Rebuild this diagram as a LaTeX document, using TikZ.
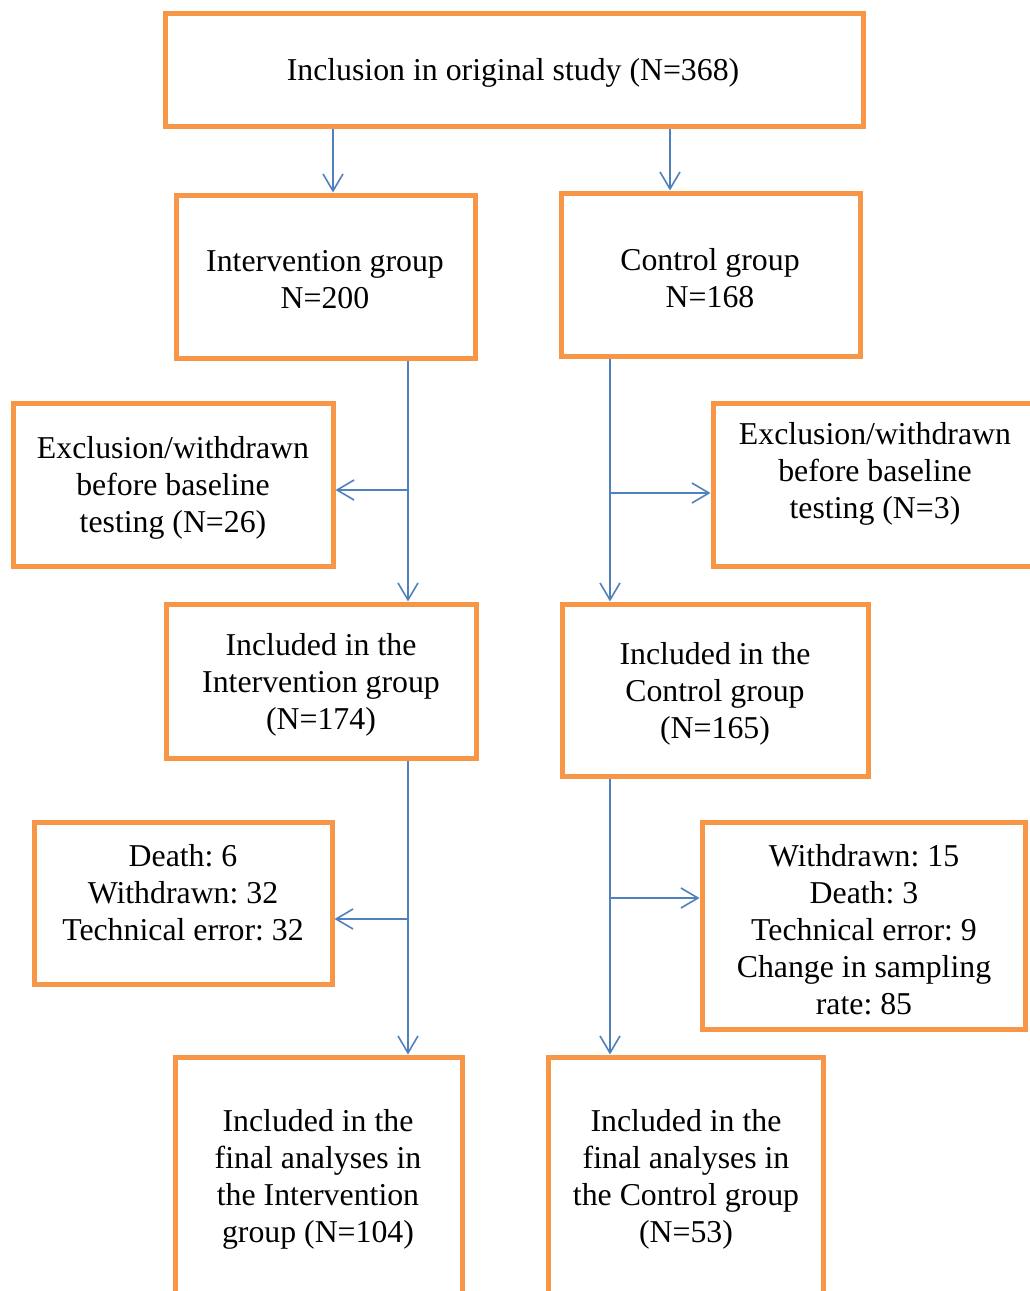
\documentclass[tikz,border=0pt]{standalone}
\usepackage{fontspec}
\setmainfont{Liberation Serif}
\usetikzlibrary{arrows.meta}
\definecolor{boxorange}{HTML}{F79646}
\definecolor{arrblue}{HTML}{4F81BD}
\tikzset{
  box/.style={draw=boxorange, line width=5pt, rectangle, inner sep=0pt, fill=none},
  txt/.style={align=center, inner sep=0pt, font=\fontsize{31.8}{37}\selectfont\frenchspacing},
  arr/.style={draw=arrblue, line width=1.6pt, -{Straight Barb[length=17pt,width=20pt]}}
}
\begin{document}
\begin{tikzpicture}[x=1pt,y=-1pt]
\useasboundingbox (0,0) rectangle (1030,1291);
\clip (0,0) rectangle (1030,1291);
\fill[white] (0,0) rectangle (1030,1291);
% boxes
\node[box, minimum width=698pt, minimum height=113pt] (top) at (514,69.5) {};
\node[box, minimum width=299pt, minimum height=163pt] (int) at (325.5,276.5) {};
\node[box, minimum width=299pt, minimum height=163pt] (ctrl) at (710.5,274.5) {};
\node[box, minimum width=320pt, minimum height=163pt] (exL) at (173,484.5) {};
\node[box, minimum width=360pt, minimum height=163pt] (exR) at (893,484.5) {};
\node[box, minimum width=310pt, minimum height=154pt] (inI) at (321,681) {};
\node[box, minimum width=306pt, minimum height=172pt] (inC) at (715,690) {};
\node[box, minimum width=298pt, minimum height=162pt] (dL) at (183,903) {};
\node[box, minimum width=323pt, minimum height=207pt] (wR) at (863.5,925.5) {};
\node[box, minimum width=287pt, minimum height=300pt] (fI) at (318.5,1207) {};
\node[box, minimum width=275pt, minimum height=300pt] (fC) at (685.5,1207) {};
% texts
\node[txt] (ttop) at (513,73) {Inclusion in original study (N=368)};
\node[txt] (tint) at (325,280) {Intervention group\\N=200};
\node[txt] (tctrl) at (710,278) {Control group\\N=168};
\node[txt] (texL) at (173,488) {Exclusion/withdrawn\\before baseline\\testing (N=26)};
\node[txt] (texR) at (875,474) {Exclusion/withdrawn\\before baseline\\testing (N=3)};
\node[txt] (tinI) at (321,685) {Included in the\\Intervention group\\(N=174)};
\node[txt] (tinC) at (715,694) {Included in the\\Control group\\(N=165)};
\node[txt] (tdL) at (183,893) {Death: 6\\Withdrawn: 32\\Technical error: 32};
\node[txt] (twR) at (864,930) {Withdrawn: 15\\Death: 3\\Technical error: 9\\Change in sampling\\rate: 85};
\node[txt] (tfI) at (318,1179) {Included in the\\final analyses in\\the Intervention\\group (N=104)};
\node[txt] (tfC) at (686,1179) {Included in the\\final analyses in\\the Control group\\(N=53)};
% connector guides
\coordinate (xa) at (333,0);
\coordinate (xb) at (670,0);
\coordinate (xc) at (408,0);
\coordinate (xd) at (610,0);
\coordinate (ya) at (0,490);
\coordinate (yb) at (0,493);
\coordinate (yc) at (0,919);
\coordinate (yd) at (0,898);
% connectors
\draw[arr] (top.south -| xa) -- (int.north -| xa);
\draw[arr] (top.south -| xb) -- (ctrl.north -| xb);
\draw[arr] (int.south -| xc) -- (inI.north -| xc);
\draw[arr] (xc |- ya) -- (exL.east |- ya);
\draw[arr] (ctrl.south -| xd) -- (inC.north -| xd);
\draw[arr] (xd |- yb) -- (exR.west |- yb);
\draw[arr] (inI.south -| xc) -- (fI.north -| xc);
\draw[arr] (xc |- yc) -- (dL.east |- yc);
\draw[arr] (inC.south -| xd) -- (fC.north -| xd);
\draw[arr] (xd |- yd) -- (wR.west |- yd);
\end{tikzpicture}
\end{document}
